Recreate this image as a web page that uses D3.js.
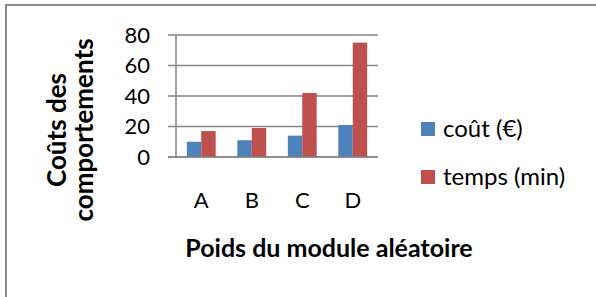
<!DOCTYPE html>
<html><head><meta charset="utf-8">
<script src="https://cdn.jsdelivr.net/npm/d3@7"></script>
<style>html,body{margin:0;padding:0;background:#fff;}svg{display:block;}</style>
</head><body>
<script>
const categories = ["A", "B", "C", "D"];
const seriesNames = ["coût (€)", "temps (min)"];
const cout = [10, 11, 14, 21];
const temps = [17, 19, 42, 75];
const yTicks = [0, 20, 40, 60, 80];
const colors = ["#4F81BD", "#C0504D"];
const xTitle = "Poids du module aléatoire";
const yTitleLines = ["Coûts des", "comportements"];

const W = 596, H = 297;
const svg = d3.select("body").append("svg").attr("width", W).attr("height", H);
const font = "Lato, 'Open Sans', sans-serif";

// frame
svg.append("rect").attr("x", 6).attr("y", 5).attr("width", W + 10).attr("height", H + 10)
  .attr("fill", "#fff").attr("stroke", "#8c8c8c").attr("stroke-width", 2);

const x = d3.scaleBand().domain(categories).range([176, 378]).paddingInner(1.5/3.5).paddingOuter(0.75/3.5);
const xs = d3.scaleBand().domain(seriesNames).range([0, x.bandwidth()]);
const y = d3.scaleLinear().domain([0, 80]).range([157, 35]);

// gridlines
svg.append("g").selectAll("line").data(yTicks).join("line")
  .attr("x1", 168).attr("x2", 378)
  .attr("y1", d => y(d)).attr("y2", d => y(d))
  .attr("stroke", "#868686").attr("stroke-width", 1.5);
// vertical axis line
svg.append("line").attr("x1", 176).attr("x2", 176).attr("y1", y(80)).attr("y2", y(0))
  .attr("stroke", "#868686").attr("stroke-width", 1.5);

// y tick labels
svg.append("g").selectAll("text").data(yTicks).join("text")
  .attr("x", 150).attr("y", d => y(d)).attr("dy", "0.36em")
  .attr("text-anchor", "end").attr("font-family", font).attr("font-size", 22).attr("fill", "#000")
  .text(d => d);

// bars
const data = categories.map((c, i) => ({c, vals: [cout[i], temps[i]]}));
const g = svg.append("g").selectAll("g").data(data).join("g")
  .attr("transform", d => `translate(${x(d.c)},0)`);
g.selectAll("rect").data(d => d.vals.map((v, j) => ({v, s: seriesNames[j], j}))).join("rect")
  .attr("x", d => xs(d.s)).attr("width", xs.bandwidth())
  .attr("y", d => y(d.v)).attr("height", d => y(0) - y(d.v))
  .attr("fill", d => colors[d.j]);

// redraw x axis line over bars
svg.append("line").attr("x1", 168).attr("x2", 378).attr("y1", y(0)).attr("y2", y(0))
  .attr("stroke", "#868686").attr("stroke-width", 1.5);

// category labels
svg.append("g").selectAll("text").data(categories).join("text")
  .attr("x", d => x(d) + x.bandwidth() / 2).attr("y", 208)
  .attr("text-anchor", "middle").attr("font-family", font).attr("font-size", 22).attr("fill", "#000")
  .text(d => d);

// x title
svg.append("text").attr("x", 329).attr("y", 257).attr("text-anchor", "middle")
  .attr("font-family", font).attr("font-size", 25).attr("font-weight", "bold").attr("fill", "#000")
  .text(xTitle);

// y title
const yt = svg.append("g").attr("transform", "translate(0,130) rotate(-90)");
yt.selectAll("text").data(yTitleLines).join("text")
  .attr("x", 0).attr("y", (d, i) => 66 + i * 27)
  .attr("text-anchor", "middle").attr("font-family", font).attr("font-size", 26).attr("font-weight", "bold").attr("fill", "#000")
  .text(d => d);

// legend
const lg = svg.append("g").selectAll("g").data(seriesNames).join("g")
  .attr("transform", (d, i) => `translate(421,${122 + i * 48})`);
lg.append("rect").attr("width", 14).attr("height", 14).attr("fill", (d, i) => colors[i]);
lg.append("text").attr("x", 22).attr("y", 15).attr("font-family", font).attr("font-size", 24).attr("fill", "#000")
  .text(d => d);
</script>
</body></html>
